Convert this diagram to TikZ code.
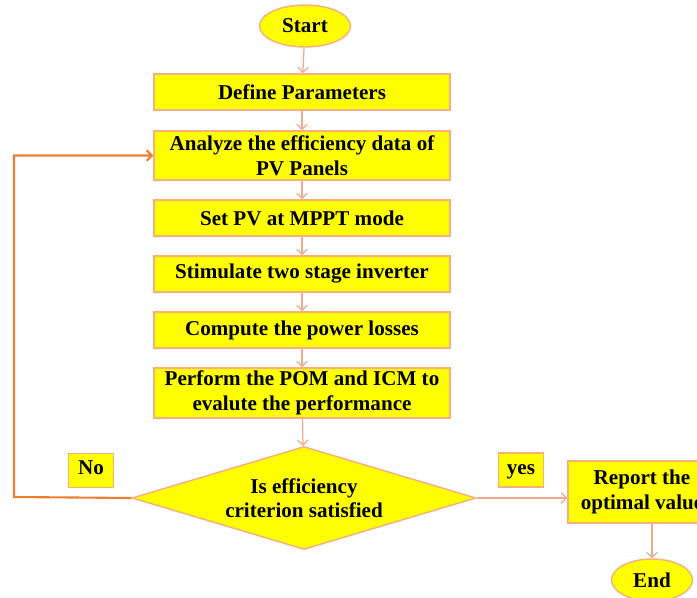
\documentclass[tikz,border=0pt]{standalone}
\usepackage{fontspec}
\setmainfont{Liberation Serif}
\usetikzlibrary{positioning,arrows.meta,shapes.geometric}
\definecolor{fcYellow}{RGB}{255,255,0}
\definecolor{fcBorder}{RGB}{246,175,125}
\definecolor{fcArrow}{RGB}{242,170,140}
\definecolor{fcLoop}{RGB}{237,125,49}

\begin{document}
\begin{tikzpicture}[x=0.02cm,y=-0.02cm,
  txt/.style={font=\bfseries\fontsize{12}{14}\selectfont, align=center, inner sep=0pt},
  procbox/.style={txt, draw=fcBorder, fill=fcYellow, line width=0.8pt, minimum width=5.92cm, minimum height=0.72cm},
  termnode/.style={txt, ellipse, draw=fcBorder, fill=fcYellow, line width=0.8pt, minimum width=1.82cm, minimum height=0.84cm},
  decnode/.style={txt, diamond, aspect=3.3, draw=fcBorder, fill=fcYellow, line width=0.8pt, minimum width=6.88cm, minimum height=2.06cm},
  tagbox/.style={txt, draw=fcBorder, fill=fcYellow, line width=0.8pt, minimum width=0.9cm, minimum height=0.68cm, text height=0.7em, text depth=0.22em},
  flow/.style={draw=fcArrow, line width=0.7pt, -{Straight Barb[length=3pt,width=6pt]}},
  loopline/.style={draw=fcLoop, line width=1.2pt, -{Straight Barb[length=3pt,width=6pt]}}]
  \clip (0,0) rectangle (697,598);

  % Terminals
  \node[termnode] (start) at (305,26) {Start};
  \node[termnode, minimum width=1.62cm] (end) at (652,580) {End};

  % Process steps
  \node[procbox] (define) at (302,92) {Define Parameters};
  \node[procbox, minimum height=0.98cm] (analyze) at (302,155.5) {Analyze the efficiency data of\\PV Panels};
  \node[procbox] (setpv) at (302,218) {Set PV at MPPT mode};
  \node[procbox] (inverter) at (302,274) {Stimulate two stage inverter};
  \node[procbox] (losses) at (302,330) {Compute the power losses};
  \node[procbox, minimum height=1.0cm] (perform) at (302,393) {Perform the POM and ICM to\\evalute the performance};

  % Decision
  \node[decnode] (check) at (304,498) {Is efficiency\\criterion satisfied};
  \node[procbox, minimum width=2.96cm, minimum height=1.24cm] (report) at (642,492) {Report the\\optimal value};

  % Branch labels
  \node[tagbox] (nolabel) at (91,470.5) {No};
  \node[tagbox] (yeslabel) at (521,470) {yes};

  % Main flow
  \draw[flow] (start) -- (define);
  \draw[flow] (define) -- (analyze);
  \draw[flow] (analyze) -- (setpv);
  \draw[flow] (setpv) -- (inverter);
  \draw[flow] (inverter) -- (losses);
  \draw[flow] (losses) -- (perform);
  \draw[flow] (perform) -- (check);
  \draw[flow] (check.east) -- (check.east -| report.west);
  \draw[flow] (report.south -| end.north) -- (end.north);

  % Feedback loop
  \coordinate (loopcorner) at (14,497);
  \draw[loopline] (check.west) -- (loopcorner) |- (analyze.west);
\end{tikzpicture}
\end{document}
